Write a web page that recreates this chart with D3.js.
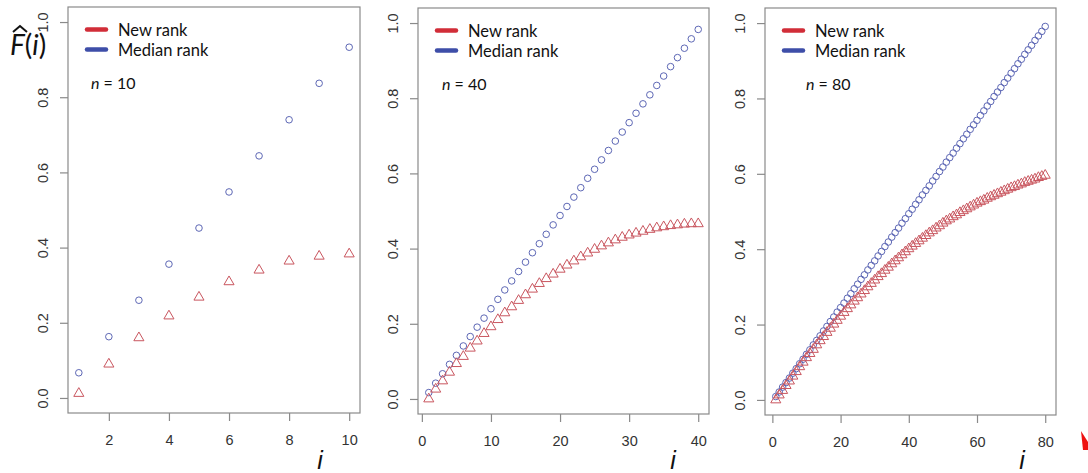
<!DOCTYPE html>
<html>
<head>
<meta charset="utf-8">
<script src="https://cdn.jsdelivr.net/npm/d3@7"></script>
<style>
  body { margin: 0; background: #fff; }
  svg { display: block; }
</style>
</head>
<body>
<svg id="chart" width="1088" height="473"></svg>
<script>
// F-hat(i) for new rank vs median rank, three sample sizes

var seriesNames = ["New rank", "Median rank"];
var sampleSizes = [10, 40, 80];

var yTicks = [0, 0.2, 0.4, 0.6, 0.8, 1.0];
var xTicks10 = [2, 4, 6, 8, 10];
var xTicks40 = [0, 10, 20, 30, 40];
var xTicks80 = [0, 20, 40, 60, 80];

// n = 10
var newRank10 = [0.012, 0.090, 0.160, 0.218, 0.268, 0.309, 0.340, 0.364, 0.377, 0.383];
var medianRank10 = [0.067, 0.163, 0.260, 0.356, 0.452, 0.548, 0.644, 0.740, 0.837, 0.933];

// n = 40
var newRank40 = [
  0.000, 0.026, 0.048, 0.071, 0.094, 0.113, 0.135, 0.154, 0.174, 0.192,
  0.211, 0.229, 0.245, 0.262, 0.277, 0.292, 0.307, 0.320, 0.332, 0.345,
  0.356, 0.367, 0.378, 0.388, 0.398, 0.407, 0.415, 0.423, 0.430, 0.436,
  0.441, 0.446, 0.451, 0.455, 0.458, 0.461, 0.463, 0.465, 0.466, 0.466
];
var medianRank40 = [
  0.017, 0.042, 0.067, 0.092, 0.116, 0.141, 0.166, 0.191, 0.215, 0.240,
  0.265, 0.290, 0.314, 0.339, 0.364, 0.389, 0.413, 0.438, 0.463, 0.488,
  0.512, 0.537, 0.562, 0.587, 0.611, 0.636, 0.661, 0.686, 0.710, 0.735,
  0.760, 0.785, 0.809, 0.834, 0.859, 0.884, 0.908, 0.933, 0.958, 0.983
];

// n = 80
var newRank80 = [
  0.000, 0.013, 0.025, 0.038, 0.050, 0.063, 0.075, 0.088, 0.100, 0.112,
  0.123, 0.134, 0.146, 0.157, 0.168, 0.179, 0.190, 0.201, 0.211, 0.222,
  0.232, 0.242, 0.252, 0.262, 0.271, 0.281, 0.290, 0.300, 0.309, 0.318,
  0.327, 0.335, 0.344, 0.352, 0.361, 0.369, 0.377, 0.385, 0.393, 0.401,
  0.408, 0.415, 0.422, 0.429, 0.436, 0.443, 0.449, 0.456, 0.462, 0.469,
  0.475, 0.480, 0.486, 0.491, 0.497, 0.502, 0.507, 0.512, 0.517, 0.522,
  0.526, 0.530, 0.535, 0.539, 0.543, 0.547, 0.551, 0.555, 0.559, 0.563,
  0.566, 0.570, 0.573, 0.577, 0.580, 0.583, 0.586, 0.590, 0.593, 0.596
];
var medianRank80 = [
  0.009, 0.021, 0.034, 0.046, 0.058, 0.071, 0.083, 0.096, 0.108, 0.121,
  0.133, 0.146, 0.158, 0.170, 0.183, 0.195, 0.208, 0.220, 0.233, 0.245,
  0.257, 0.270, 0.282, 0.295, 0.307, 0.320, 0.332, 0.345, 0.357, 0.369,
  0.382, 0.394, 0.407, 0.419, 0.432, 0.444, 0.456, 0.469, 0.481, 0.494,
  0.506, 0.519, 0.531, 0.544, 0.556, 0.568, 0.581, 0.593, 0.606, 0.618,
  0.631, 0.643, 0.655, 0.668, 0.680, 0.693, 0.705, 0.718, 0.730, 0.742,
  0.755, 0.767, 0.780, 0.792, 0.805, 0.817, 0.829, 0.842, 0.854, 0.867,
  0.879, 0.892, 0.904, 0.917, 0.929, 0.941, 0.954, 0.966, 0.978, 0.991
];

var svg = d3.select("#chart");

var red = "#d12d38", blue = "#3e4ea8";
var redPt = "#c9565f", bluePt = "#5d67b5";
var axisGrey = "#8a8a8a";
var tickFont = "'Liberation Sans', Arial, sans-serif";
var legendFont = "Lato, 'Open Sans', sans-serif";

// panel layout (pixel boxes), data hooked up below
var panels = [
  { n: 10, newR: newRank10, med: medianRank10, xTicks: xTicks10,
    left: 68, right: 360, top: 7, bottom: 413, nLabelX: 23, iLabelX: 320 },
  { n: 40, newR: newRank40, med: medianRank40, xTicks: xTicks40,
    left: 418, right: 709, top: 8, bottom: 414, nLabelX: 24, iLabelX: 673 },
  { n: 80, newR: newRank80, med: medianRank80, xTicks: xTicks80,
    left: 765, right: 1056, top: 8, bottom: 415, nLabelX: 41, iLabelX: 1022 }
];

panels.forEach(function(p) {
  var pad = 0.04 * (p.n - 1);
  var x = d3.scaleLinear().domain([1 - pad, p.n + pad]).range([p.left, p.right]);
  var y = d3.scaleLinear().domain([-0.04, 1.04]).range([p.bottom, p.top]);

  var g = svg.append("g");

  // box
  g.append("rect")
    .attr("x", p.left).attr("y", p.top)
    .attr("width", p.right - p.left).attr("height", p.bottom - p.top)
    .attr("fill", "none").attr("stroke", axisGrey).attr("stroke-width", 1.2);

  // y axis
  var yAxis = g.append("g")
    .attr("transform", "translate(" + p.left + ",0)")
    .call(d3.axisLeft(y).tickValues(yTicks).tickFormat(d3.format(".1f")).tickSize(8).tickPadding(0));
  yAxis.select(".domain").remove();
  yAxis.selectAll(".tick line").attr("stroke", axisGrey).attr("stroke-width", 1.2);
  yAxis.selectAll(".tick text")
    .attr("x", 0).attr("dy", null)
    .attr("transform", "translate(-25,0) rotate(-90)")
    .attr("text-anchor", "middle")
    .attr("dominant-baseline", "central")
    .style("font-family", tickFont).style("font-size", "14.5px").attr("fill", "#333");

  // x axis
  var xAxis = g.append("g")
    .attr("transform", "translate(0," + p.bottom + ")")
    .call(d3.axisBottom(x).tickValues(p.xTicks).tickSize(8).tickPadding(14));
  xAxis.select(".domain").remove();
  xAxis.selectAll(".tick line").attr("stroke", axisGrey).attr("stroke-width", 1.2);
  xAxis.selectAll(".tick text")
    .style("font-family", tickFont).style("font-size", "14.5px").attr("fill", "#333");

  g.append("text")
    .attr("x", p.iLabelX).attr("y", 469)
    .attr("text-anchor", "middle")
    .style("font-family", tickFont).style("font-size", "25px").style("font-style", "italic")
    .attr("fill", "#111")
    .text("i");

  // median rank: open circles
  g.selectAll("circle.med")
    .data(p.med)
    .enter().append("circle")
      .attr("class", "med")
      .attr("cx", function(d, i) { return x(i + 1); })
      .attr("cy", function(d) { return y(d); })
      .attr("r", 3.3)
      .attr("fill", "none")
      .attr("stroke", bluePt)
      .attr("stroke-width", 1);

  // new rank: open triangles
  var tri = d3.symbol().type(d3.symbolTriangle).size(44);
  g.selectAll("path.newr")
    .data(p.newR)
    .enter().append("path")
      .attr("class", "newr")
      .attr("d", tri)
      .attr("transform", function(d, i) { return "translate(" + x(i + 1) + "," + y(d) + ")"; })
      .attr("fill", "none")
      .attr("stroke", redPt)
      .attr("stroke-width", 1);

  // legend
  var leg = g.append("g").attr("transform", "translate(" + p.left + "," + p.top + ")");
  [red, blue].forEach(function(c, k) {
    var ly = 22.5 + k * 20;
    leg.append("line")
      .attr("x1", 19).attr("x2", 38).attr("y1", ly).attr("y2", ly)
      .attr("stroke", c).attr("stroke-width", 4.5).attr("stroke-linecap", "round");
    leg.append("text")
      .attr("x", 50).attr("y", ly)
      .attr("dominant-baseline", "central")
      .style("font-family", legendFont).style("font-size", "16.5px")
      .attr("fill", "#111")
      .text(seriesNames[k]);
  });
  var nt = leg.append("text")
    .attr("x", p.nLabelX).attr("y", 75)
    .attr("dominant-baseline", "central")
    .style("font-family", legendFont).style("font-size", "16px")
    .attr("fill", "#111");
  nt.append("tspan").style("font-style", "italic").text("n");
  nt.append("tspan").text(" = " + p.n);
});

// y axis title on the first panel: F-hat(i)
var yt = svg.append("g").attr("transform", "translate(10,55)");
var ytText = yt.append("text")
  .style("font-family", legendFont).style("font-size", "28px").attr("fill", "#111");
ytText.append("tspan").style("font-style", "italic").text("F");
ytText.append("tspan").text("(");
ytText.append("tspan").style("font-style", "italic").text("i");
ytText.append("tspan").text(")");
yt.append("path")
  .attr("d", "M3,-23 L10,-29 L17,-23")
  .attr("fill", "none").attr("stroke", "#111").attr("stroke-width", 2);

// red mark at the lower right edge
svg.append("path")
  .attr("d", "M1081,431 L1088,442 L1088,450 L1083,450 Z")
  .attr("fill", "#ee1111");
</script>
</body>
</html>
